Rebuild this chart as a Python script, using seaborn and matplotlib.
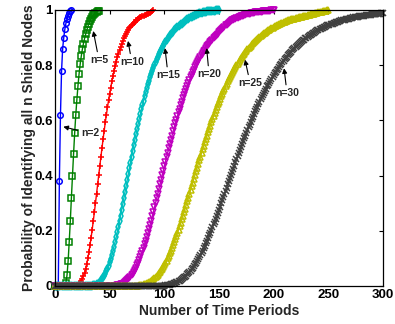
import numpy as np
import seaborn as sns
import matplotlib.pyplot as plt

# probability of identifying all n shield nodes, one value per time period (t = 0, 1, 2, ...)
p_n2 = [0.0] * 4 + [0.38, 0.62, 0.78, 0.86, 0.90, 0.93, 0.952, 0.967, 0.98, 0.99, 0.995, 1.0]

p_n5 = [0.0] * 10 + [
    0.012, 0.04, 0.09, 0.16, 0.235, 0.32, 0.40, 0.48, 0.555, 0.62,
    0.675, 0.725, 0.768, 0.803, 0.832, 0.857, 0.878, 0.896, 0.912, 0.926,
    0.939, 0.950, 0.960, 0.968, 0.975, 0.981, 0.986, 0.990, 0.993, 0.996,
    0.998,
]

p_n10 = [0.0] * 20 + [
    0.003, 0.005, 0.008, 0.012, 0.018, 0.026, 0.036, 0.048, 0.063, 0.080,
    0.100, 0.123, 0.148, 0.175, 0.204, 0.235, 0.267, 0.300, 0.334, 0.368,
    0.402, 0.435, 0.469, 0.501, 0.533, 0.563, 0.593, 0.621, 0.647, 0.673,
    0.697, 0.719, 0.741, 0.761, 0.779, 0.797, 0.813, 0.828, 0.842, 0.855,
    0.866, 0.878, 0.888, 0.897, 0.906, 0.914, 0.921, 0.928, 0.934, 0.940,
    0.945, 0.950, 0.954, 0.958, 0.962, 0.965, 0.968, 0.971, 0.973, 0.976,
    0.978, 0.980, 0.981, 0.983, 0.985, 0.986, 0.988, 0.990, 0.993, 0.996,
    0.999,
]

p_n15 = [0.0] * 35 + [
    0.003, 0.004, 0.005, 0.007, 0.009, 0.012, 0.016, 0.020, 0.025, 0.031,
    0.037, 0.045, 0.054, 0.063, 0.074, 0.086, 0.099, 0.112, 0.127, 0.143,
    0.160, 0.177, 0.196, 0.215, 0.235, 0.255, 0.276, 0.297, 0.318, 0.340,
    0.361, 0.383, 0.405, 0.426, 0.447, 0.468, 0.489, 0.510, 0.530, 0.549,
    0.568, 0.587, 0.605, 0.622, 0.640, 0.656, 0.672, 0.688, 0.702, 0.717,
    0.731, 0.744, 0.757, 0.769, 0.780, 0.791, 0.802, 0.812, 0.822, 0.831,
    0.840, 0.848, 0.856, 0.864, 0.871, 0.878, 0.885, 0.891, 0.897, 0.902,
    0.908, 0.913, 0.917, 0.922, 0.926, 0.930, 0.934, 0.938, 0.941, 0.945,
    0.948, 0.951, 0.954, 0.957, 0.960, 0.963, 0.966, 0.968, 0.971, 0.973,
    0.975, 0.977, 0.979, 0.981, 0.983, 0.985, 0.986, 0.988, 0.989, 0.990,
    0.991, 0.992, 0.993, 0.994, 0.995, 0.995, 0.996, 0.996, 0.997, 0.997,
    0.998, 0.998, 0.999, 0.999, 1.0, 1.0,
]

p_n20 = [0.0] * 57 + [
    0.003, 0.004, 0.005, 0.006, 0.008, 0.009, 0.011, 0.014, 0.017, 0.020,
    0.024, 0.028, 0.033, 0.039, 0.045, 0.051, 0.059, 0.066, 0.075, 0.084,
    0.094, 0.104, 0.115, 0.126, 0.139, 0.151, 0.164, 0.178, 0.192, 0.207,
    0.222, 0.237, 0.253, 0.269, 0.285, 0.301, 0.318, 0.335, 0.351, 0.368,
    0.384, 0.401, 0.418, 0.434, 0.451, 0.467, 0.483, 0.499, 0.515, 0.530,
    0.545, 0.560, 0.575, 0.589, 0.603, 0.617, 0.630, 0.643, 0.656, 0.668,
    0.680, 0.692, 0.703, 0.715, 0.725, 0.736, 0.746, 0.756, 0.765, 0.774,
    0.783, 0.792, 0.800, 0.808, 0.816, 0.823, 0.830, 0.837, 0.844, 0.850,
    0.856, 0.862, 0.868, 0.873, 0.878, 0.884, 0.888, 0.893, 0.898, 0.902,
    0.906, 0.910, 0.914, 0.920, 0.924, 0.928, 0.932, 0.936, 0.940, 0.944,
    0.947, 0.950, 0.953, 0.956, 0.959, 0.962, 0.964, 0.966, 0.968, 0.970,
    0.972, 0.974, 0.976, 0.977, 0.979, 0.980, 0.981, 0.983, 0.984, 0.985,
    0.986, 0.987, 0.988, 0.989, 0.990, 0.990, 0.991, 0.992, 0.992, 0.993,
    0.993, 0.994, 0.994, 0.995, 0.995, 0.996, 0.996, 0.997, 0.997, 0.998,
    0.998, 0.999, 0.999, 1.0,
]

p_n25 = [0.0] * 77 + [
    0.003, 0.003, 0.004, 0.005, 0.006, 0.007, 0.008, 0.010, 0.011, 0.014,
    0.016, 0.018, 0.021, 0.024, 0.028, 0.032, 0.036, 0.041, 0.046, 0.051,
    0.057, 0.063, 0.070, 0.077, 0.084, 0.092, 0.100, 0.109, 0.118, 0.128,
    0.138, 0.148, 0.158, 0.169, 0.180, 0.192, 0.204, 0.216, 0.229, 0.241,
    0.254, 0.267, 0.280, 0.294, 0.307, 0.320, 0.334, 0.347, 0.361, 0.375,
    0.388, 0.402, 0.416, 0.429, 0.442, 0.456, 0.469, 0.482, 0.495, 0.508,
    0.520, 0.533, 0.545, 0.557, 0.569, 0.581, 0.593, 0.604, 0.615, 0.626,
    0.637, 0.647, 0.658, 0.668, 0.678, 0.687, 0.697, 0.706, 0.715, 0.724,
    0.732, 0.741, 0.749, 0.757, 0.764, 0.772, 0.779, 0.786, 0.793, 0.800,
    0.806, 0.813, 0.819, 0.825, 0.831, 0.837, 0.842, 0.847, 0.852, 0.857,
    0.862, 0.867, 0.871, 0.876, 0.880, 0.884, 0.888, 0.892, 0.895, 0.899,
    0.903, 0.906, 0.909, 0.912, 0.915, 0.918, 0.921, 0.924, 0.927, 0.929,
    0.932, 0.934, 0.936, 0.939, 0.941, 0.943, 0.945, 0.947, 0.949, 0.950,
    0.952, 0.954, 0.956, 0.957, 0.959, 0.960, 0.962, 0.963, 0.964, 0.966,
    0.967, 0.968, 0.969, 0.970, 0.971, 0.972, 0.973, 0.974, 0.975, 0.976,
    0.977, 0.978, 0.979, 0.980, 0.981, 0.982, 0.983, 0.984, 0.985, 0.986,
    0.987, 0.988, 0.989, 0.990, 0.991, 0.992, 0.993, 0.994, 0.995, 0.996,
    0.997, 0.998, 0.999, 1.0,
]

p_n30 = [0.0] * 101 + [
    0.003, 0.003, 0.004, 0.005, 0.005, 0.006, 0.007, 0.009, 0.010, 0.011,
    0.013, 0.015, 0.017, 0.019, 0.022, 0.025, 0.028, 0.031, 0.034, 0.038,
    0.042, 0.046, 0.051, 0.056, 0.061, 0.066, 0.072, 0.078, 0.084, 0.091,
    0.098, 0.105, 0.113, 0.121, 0.128, 0.137, 0.146, 0.154, 0.163, 0.173,
    0.183, 0.192, 0.202, 0.213, 0.223, 0.233, 0.244, 0.255, 0.266, 0.277,
    0.288, 0.299, 0.311, 0.322, 0.334, 0.345, 0.356, 0.368, 0.379, 0.391,
    0.402, 0.414, 0.425, 0.436, 0.448, 0.459, 0.470, 0.481, 0.492, 0.503,
    0.514, 0.524, 0.535, 0.545, 0.555, 0.566, 0.576, 0.585, 0.595, 0.605,
    0.614, 0.623, 0.633, 0.642, 0.650, 0.659, 0.668, 0.676, 0.684, 0.692,
    0.700, 0.708, 0.715, 0.723, 0.730, 0.737, 0.744, 0.751, 0.757, 0.764,
    0.770, 0.776, 0.782, 0.788, 0.794, 0.800, 0.805, 0.811, 0.816, 0.821,
    0.826, 0.831, 0.836, 0.840, 0.845, 0.849, 0.854, 0.858, 0.862, 0.866,
    0.869, 0.873, 0.877, 0.880, 0.884, 0.887, 0.890, 0.893, 0.897, 0.900,
    0.902, 0.905, 0.908, 0.911, 0.913, 0.916, 0.918, 0.921, 0.923, 0.926,
    0.928, 0.930, 0.932, 0.934, 0.936, 0.938, 0.940, 0.942, 0.944, 0.945,
    0.947, 0.949, 0.950, 0.951, 0.953, 0.954, 0.956, 0.957, 0.958, 0.960,
    0.961, 0.962, 0.963, 0.964, 0.965, 0.966, 0.967, 0.968, 0.969, 0.970,
    0.971, 0.972, 0.973, 0.974, 0.974, 0.975, 0.976, 0.977, 0.977, 0.978,
    0.979, 0.979, 0.980, 0.981, 0.981, 0.982, 0.982, 0.983, 0.983, 0.984,
    0.984, 0.985, 0.985, 0.986, 0.986, 0.987, 0.987, 0.988, 0.988, 0.988,
]

labels = ["n=2", "n=5", "n=10", "n=15", "n=20", "n=25", "n=30"]
series = [p_n2, p_n5, p_n10, p_n15, p_n20, p_n25, p_n30]
colors = ["#0000ff", "#008000", "#ff0000", "#00bfbf", "#bf00bf", "#bfbf00", "#404040"]
markers = ["o", "s", "+", "d", "v", "^", "x"]

# arrow heads and label centres (time period, probability)
arrow_heads = [(7.6, 0.577), (35.0, 0.924), (66.8, 0.888), (100.6, 0.862),
               (138.7, 0.862), (173.8, 0.82), (209.5, 0.789)]
label_pos = [(32.0, 0.553), (40.2, 0.819), (70.2, 0.812), (103.4, 0.764),
             (140.9, 0.768), (178.4, 0.736), (212.2, 0.699)]

x_ticks = [0, 50, 100, 150, 200, 250, 300]
y_ticks = [0, 0.2, 0.4, 0.6, 0.8, 1.0]
y_tick_labels = ["0", "0.2", "0.4", "0.6", "0.8", "1"]

sns.set_style("white")
plt.rcParams["font.family"] = ["Liberation Sans", "DejaVu Sans"]
plt.rcParams["font.weight"] = "bold"

fig = plt.figure(figsize=(3.95, 3.24), dpi=100)
ax = fig.add_axes([55 / 395, 38 / 324, 328 / 395, 276 / 324])

for p, c, m in zip(series, colors, markers):
    t = np.arange(len(p))
    sns.lineplot(x=t, y=p, color=c, marker=m, markersize=4.0, markeredgecolor=c,
                 markerfacecolor="none", markeredgewidth=1.1, linewidth=1.0,
                 clip_on=False, ax=ax)

for lab, head, pos in zip(labels, arrow_heads, label_pos):
    ax.annotate(lab, xy=head, xytext=pos, ha="center", va="center",
                fontsize=7.5, fontweight="bold",
                arrowprops=dict(arrowstyle="-|>", color="k", lw=0.8,
                                mutation_scale=7, shrinkA=0, shrinkB=0))

ax.set_xlim(0, 300)
ax.set_ylim(0, 1)
ax.set_xticks(x_ticks)
ax.set_yticks(y_ticks)
ax.set_yticklabels(y_tick_labels)
ax.tick_params(direction="in", top=True, right=True, length=3, width=0.8,
               labelsize=9.5, colors="k")
ax.tick_params(axis="x", pad=2.5)
ax.tick_params(axis="y", pad=1.5)
for s in ax.spines.values():
    s.set_color("k")
    s.set_linewidth(0.9)

ax.set_xlabel("Number of Time Periods", fontsize=10, fontweight="bold")
ax.set_ylabel("Probability of Identifying all n Shield Nodes", fontsize=10, fontweight="bold")
ax.xaxis.set_label_coords(0.5, -0.065)
ax.yaxis.set_label_coords(-0.058, 0.5)

fig.savefig("out.png", dpi=100)
